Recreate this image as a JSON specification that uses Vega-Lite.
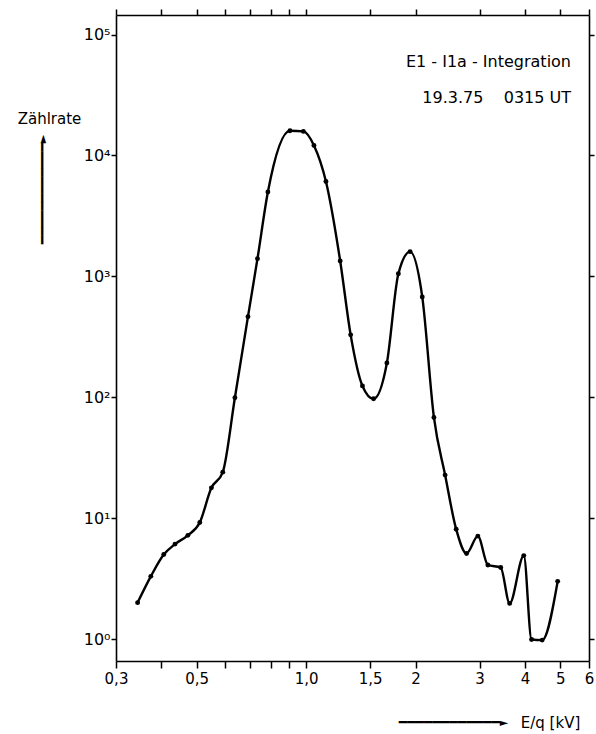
{
  "$schema": "https://vega.github.io/schema/vega-lite/v6.json",
  "width": 473,
  "height": 646,
  "autosize": "none",
  "padding": {"left": 116, "top": 15, "right": 7, "bottom": 73},
  "background": "white",
  "config": {
    "view": {"stroke": null},
    "font": "DejaVu Sans",
    "axis": {
      "domainColor": "black", "tickColor": "black", "labelColor": "black", "titleColor": "black",
      "grid": false, "domainWidth": 1.6, "tickWidth": 1.5,
      "labelFont": "DejaVu Sans", "titleFont": "DejaVu Sans", "titleFontWeight": "normal"
    }
  },
  "title": {
    "text": ["E1 - I1a - Integration", "19.3.75\u00a0\u00a0\u00a0\u00a00315 UT"],
    "anchor": "end", "frame": "group", "orient": "top",
    "offset": -98, "baseline": "top", "align": "right", "dx": -18,
    "lineHeight": 36, "fontSize": 16, "fontWeight": "normal", "font": "DejaVu Sans", "color": "black"
  },
  "data": {
    "values": [
      {"E": 0.344, "rate": 2.0},
      {"E": 0.374, "rate": 3.3},
      {"E": 0.406, "rate": 5.0},
      {"E": 0.436, "rate": 6.1},
      {"E": 0.473, "rate": 7.2},
      {"E": 0.510, "rate": 9.2},
      {"E": 0.549, "rate": 17.8},
      {"E": 0.590, "rate": 24},
      {"E": 0.637, "rate": 99},
      {"E": 0.692, "rate": 464},
      {"E": 0.735, "rate": 1400},
      {"E": 0.785, "rate": 4980},
      {"E": 0.903, "rate": 16000},
      {"E": 0.983, "rate": 15800},
      {"E": 1.051, "rate": 12100},
      {"E": 1.134, "rate": 6080},
      {"E": 1.241, "rate": 1340},
      {"E": 1.326, "rate": 328},
      {"E": 1.429, "rate": 124},
      {"E": 1.533, "rate": 97},
      {"E": 1.668, "rate": 192},
      {"E": 1.794, "rate": 1050},
      {"E": 1.932, "rate": 1600},
      {"E": 2.087, "rate": 675},
      {"E": 2.247, "rate": 68},
      {"E": 2.412, "rate": 22.7},
      {"E": 2.587, "rate": 8.1},
      {"E": 2.763, "rate": 5.1},
      {"E": 2.968, "rate": 7.1},
      {"E": 3.162, "rate": 4.1},
      {"E": 3.43, "rate": 3.9},
      {"E": 3.63, "rate": 1.97},
      {"E": 3.97, "rate": 4.9},
      {"E": 4.17, "rate": 0.99},
      {"E": 4.46, "rate": 0.98},
      {"E": 4.92, "rate": 3.0}
    ]
  },
  "layer": [
    {
      "mark": {"type": "line", "interpolate": "monotone", "color": "black", "strokeWidth": 2.4},
      "encoding": {
        "x": {
          "field": "E", "type": "quantitative",
          "scale": {"type": "log", "domain": [0.3, 6], "nice": false, "zero": false},
          "axis": {
            "orient": "bottom",
            "values": [0.3, 0.4, 0.5, 0.6, 0.7, 0.8, 0.9, 1, 1.5, 2, 3, 4, 5, 6],
            "labelExpr": "datum.value == 0.3 ? '0,3' : datum.value == 0.5 ? '0,5' : datum.value == 1 ? '1,0' : datum.value == 1.5 ? '1,5' : datum.value >= 2 ? format(datum.value, 'd') : ''",
            "tickSize": 7, "labelPadding": 3, "labelFontSize": 15, "labelFlush": false, "labelOverlap": false,
            "title": "E/q [kV]", "titleFontSize": 15, "titleAngle": 0,
            "titleX": 434, "titleY": 61, "titleAlign": "center", "titleBaseline": "middle"
          }
        },
        "y": {
          "field": "rate", "type": "quantitative",
          "scale": {"type": "log", "domain": [0.658, 145000], "nice": false, "zero": false},
          "axis": {
            "orient": "left",
            "values": [1, 10, 100, 1000, 10000, 100000],
            "labelExpr": "'10' + ['⁰','¹','²','³','⁴','⁵'][round(log(datum.value) / LN10)]",
            "tickSize": 5, "labelPadding": 1, "labelFontSize": 16, "labelFlush": false,
            "title": "Zählrate", "titleFontSize": 15, "titleAngle": 0,
            "titleX": -67, "titleY": 103, "titleAlign": "center", "titleBaseline": "middle"
          }
        }
      }
    },
    {
      "mark": {"type": "point", "filled": true, "color": "black", "size": 24, "opacity": 1},
      "encoding": {
        "x": {
          "field": "E", "type": "quantitative",
          "scale": {"type": "log", "domain": [0.3, 6], "nice": false, "zero": false},
          "axis": {
            "orient": "top",
            "values": [0.3, 0.4, 0.5, 0.6, 0.7, 0.8, 0.9, 1, 1.5, 2, 3, 4, 5, 6],
            "labels": false, "tickSize": 6,
            "title": "━━━━━━━━━━━━►", "titleFont": "DejaVu Sans Mono", "titleFontSize": 14, "titleAngle": 0,
            "titleX": 337, "titleY": 707, "titleAlign": "center", "titleBaseline": "middle"
          }
        },
        "y": {
          "field": "rate", "type": "quantitative",
          "scale": {"type": "log", "domain": [0.658, 145000], "nice": false, "zero": false},
          "axis": {
            "orient": "right",
            "values": [1, 10, 100, 1000, 10000, 100000],
            "labels": false, "tickSize": 5,
            "title": "━━━━━━━━━━━━►", "titleFont": "DejaVu Sans Mono", "titleFontSize": 14, "titleAngle": 270,
            "titleX": -547, "titleY": 174, "titleAlign": "center", "titleBaseline": "middle"
          }
        }
      }
    }
  ],
  "resolve": {"axis": {"x": "independent", "y": "independent"}}
}
